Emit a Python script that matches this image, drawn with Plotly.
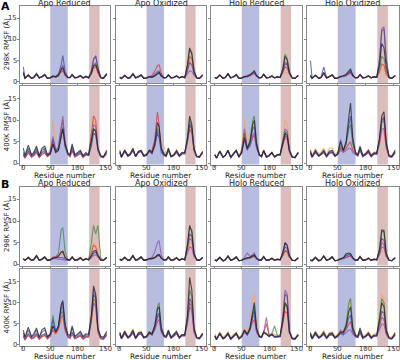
import plotly.graph_objects as go

# ---------------- data ----------------
residues = [1, 4, 10, 16, 20, 25, 30, 35, 40, 45, 50, 55, 60, 65, 70, 73, 77, 82, 86, 90,
            95, 100, 105, 110, 115, 120, 125, 129, 133, 137, 142, 147, 153]
series_names = ["run1", "run2", "run3", "run4", "run5", "run6"]
series_colors = ["#1e1e1e", "#3a4aa6", "#f0a860", "#3d8c3d", "#d8383a", "#8a4fb0"]
conditions = ["Apo Reduced", "Apo Oxidized", "Holo Reduced", "Holo Oxidized"]
row_labels = ["298K RMSF (Å)", "400K RMSF (Å)", "298K RMSF (Å)", "400K RMSF (Å)"]
panel_letters = ["A", "B"]
x_ticks = [0, 50, 100, 150]
y_ticks = [0, 5, 10, 15]
region_blue = [50, 82]
region_red = [121, 140]

# rows of each panel: black, blue, orange, green, red, purple
a298_apo_red = [
    [2.0,0.8,1.6,0.8,1.0,1.9,0.9,1.2,1.7,0.8,0.9,1.3,1.1,1.4,2.8,3.3,1.8,1.0,1.0,1.7,0.9,1.1,1.5,0.9,1.3,0.9,2.0,3.8,4.0,2.5,1.0,0.8,1.8],
    [3.5,0.9,1.5,0.8,1.1,1.8,0.9,1.2,1.6,0.8,1.0,1.4,1.2,1.8,4.0,6.2,2.5,1.1,1.0,1.6,0.9,1.0,1.4,0.9,1.2,1.0,2.5,5.5,6.0,3.5,1.1,0.8,2.0],
    [2.2,0.8,1.5,0.8,1.0,1.8,0.9,1.1,1.6,0.8,0.9,1.2,1.0,1.3,2.5,3.0,1.6,0.9,1.0,1.6,0.9,1.0,1.4,0.8,1.2,0.9,2.0,3.5,3.8,2.2,0.9,0.8,1.7],
    [2.4,0.9,1.7,0.9,1.0,2.0,1.0,1.2,1.8,0.9,1.0,1.3,1.1,1.5,3.0,3.5,1.7,1.0,1.0,1.8,1.0,1.1,1.5,0.9,1.3,1.0,2.2,4.0,4.5,2.4,1.0,0.9,1.9],
    [2.0,0.8,1.4,0.8,1.0,1.7,0.9,1.1,1.5,0.8,0.9,1.2,1.3,1.7,2.3,2.6,1.5,0.9,0.9,1.5,0.9,1.0,1.3,0.8,1.1,0.9,1.8,3.2,3.6,2.0,0.9,0.8,1.6],
    [2.3,0.9,1.5,0.8,1.0,1.8,0.9,1.2,1.6,0.8,0.9,1.3,1.2,1.6,3.2,4.0,1.9,1.0,1.0,1.6,0.9,1.0,1.4,0.9,1.2,0.9,2.4,5.0,6.2,3.2,1.0,0.8,1.8],
]
a298_apo_ox = [
    [1.0,0.7,1.5,0.8,1.0,1.9,0.9,1.2,1.6,0.8,0.9,1.2,1.1,1.4,2.0,2.2,1.4,0.9,1.0,1.6,0.9,1.0,1.4,0.9,1.2,1.0,4.0,8.0,6.5,2.5,0.9,0.8,1.6],
    [1.1,0.8,1.4,0.8,1.0,1.8,0.9,1.1,1.5,0.8,0.9,1.2,1.0,1.3,1.8,2.0,1.3,0.9,1.0,1.5,0.9,1.0,1.3,0.9,1.1,0.9,2.5,4.5,4.0,1.8,0.9,0.8,1.5],
    [1.2,0.8,1.6,0.9,1.1,2.0,1.0,1.2,1.7,0.9,1.0,1.3,1.2,1.4,2.0,2.2,1.5,1.0,1.0,1.7,1.0,1.1,1.5,1.0,1.3,1.0,3.0,5.5,5.0,2.2,1.0,0.9,1.7],
    [1.0,0.8,1.5,0.8,1.0,1.9,0.9,1.2,1.6,0.8,0.9,1.2,1.1,1.4,2.1,2.4,1.5,0.9,1.0,1.6,0.9,1.0,1.4,0.9,1.2,1.0,3.8,7.5,7.0,2.8,1.0,0.8,1.6],
    [1.1,0.8,1.5,0.8,1.0,1.8,0.9,1.1,1.6,0.8,0.9,1.3,1.5,2.5,3.8,4.0,2.0,1.0,1.0,1.6,0.9,1.0,1.4,0.9,1.2,1.0,3.2,6.0,5.5,2.4,1.0,0.8,1.6],
    [1.0,0.7,1.4,0.8,0.9,1.7,0.9,1.1,1.5,0.8,0.9,1.2,1.2,1.8,2.5,2.6,1.5,0.9,0.9,1.5,0.9,1.0,1.3,0.9,1.1,0.9,1.8,2.6,2.4,1.5,0.9,0.8,1.5],
]
a298_holo_red = [
    [1.0,0.8,1.6,0.8,1.0,1.9,0.9,1.2,1.7,0.8,0.9,1.2,1.3,1.6,2.2,2.6,1.5,0.9,1.0,1.8,0.9,1.0,1.4,0.9,1.2,1.0,3.0,6.0,5.0,2.2,0.9,0.8,1.5],
    [1.0,0.8,1.5,0.8,1.0,1.8,0.9,1.1,1.6,0.8,0.9,1.2,1.2,1.5,2.0,2.2,1.4,0.9,1.0,1.7,0.9,1.0,1.3,0.9,1.1,1.0,2.5,4.2,4.0,2.0,0.9,0.8,1.5],
    [1.1,0.9,1.7,0.9,1.1,2.0,1.0,1.2,1.8,0.9,1.0,1.3,1.3,1.5,1.8,1.9,1.4,1.0,1.1,1.8,1.0,1.1,1.5,1.0,1.3,1.1,1.8,2.2,2.2,1.5,1.0,0.9,1.6],
    [1.0,0.8,1.6,0.8,1.0,1.9,0.9,1.2,1.7,0.8,0.9,1.2,1.2,1.5,2.0,2.3,1.4,0.9,1.0,1.8,0.9,1.0,1.4,0.9,1.2,1.0,3.2,6.5,5.5,2.4,1.0,0.8,1.5],
    [1.0,0.8,1.5,0.8,1.0,1.8,0.9,1.1,1.6,0.8,0.9,1.2,1.2,1.4,1.8,2.0,1.3,0.9,1.0,1.7,0.9,1.0,1.3,0.9,1.1,1.0,2.2,3.5,3.2,1.8,0.9,0.8,1.4],
    [1.0,0.8,1.5,0.8,1.0,1.8,0.9,1.1,1.6,0.8,0.9,1.3,1.5,1.7,1.9,2.1,1.4,0.9,1.0,1.7,0.9,1.0,1.3,0.9,1.1,1.0,2.6,4.6,4.2,2.0,0.9,0.8,1.4],
]
a298_holo_ox = [
    [1.5,0.8,1.5,0.8,1.0,2.2,0.9,1.2,1.6,0.8,0.9,1.3,1.4,1.8,2.6,3.0,1.6,0.9,1.0,1.7,0.9,1.0,1.4,0.9,1.2,1.1,4.0,9.0,8.0,3.5,1.0,0.8,1.4],
    [5.0,0.9,1.6,0.8,1.0,3.5,0.9,1.2,1.6,0.8,0.9,1.2,1.3,1.6,2.2,2.5,1.5,0.9,1.0,1.7,0.9,1.0,1.4,0.9,1.2,1.1,5.0,12.0,12.5,5.0,1.1,0.8,1.5],
    [1.4,0.9,1.6,0.9,1.1,2.0,1.0,1.2,1.7,0.9,1.0,1.3,1.3,1.5,1.8,2.0,1.4,1.0,1.1,1.8,1.0,1.1,1.5,1.0,1.3,1.1,2.0,3.0,2.8,1.6,1.0,0.9,1.5],
    [1.3,0.8,1.5,0.8,1.0,2.0,0.9,1.2,1.6,0.8,0.9,1.2,1.3,1.6,2.1,2.4,1.5,0.9,1.0,1.7,0.9,1.0,1.4,0.9,1.2,1.0,3.0,6.0,5.5,2.5,1.0,0.8,1.4],
    [1.2,0.8,1.5,0.8,1.0,1.9,0.9,1.1,1.6,0.8,0.9,1.2,1.2,1.4,1.8,2.0,1.3,0.9,1.0,1.7,0.9,1.0,1.3,0.9,1.1,1.0,2.4,4.2,3.8,1.8,0.9,0.8,1.4],
    [1.6,0.8,1.5,0.8,1.0,2.2,0.9,1.2,1.6,0.8,0.9,1.2,1.3,1.5,2.0,2.3,1.4,0.9,1.0,1.7,0.9,1.0,1.4,0.9,1.2,1.1,5.5,12.5,13.0,5.5,1.1,0.8,1.5],
]
a400_apo_red = [
    [3.5,1.8,4.2,2.0,2.5,4.0,1.8,3.5,4.0,2.0,2.2,4.5,2.5,3.0,6.5,8.0,4.5,2.5,2.0,4.5,2.0,2.5,3.0,1.8,2.5,2.0,5.0,8.0,7.5,3.5,1.8,1.5,3.0],
    [2.5,1.5,3.5,1.8,2.2,3.5,1.6,3.0,3.5,1.8,2.5,5.5,2.8,3.5,6.0,8.0,4.0,2.2,1.8,4.0,1.8,2.2,2.8,1.6,2.2,1.8,4.0,7.0,6.5,3.0,1.6,1.5,2.8],
    [2.0,1.2,2.5,1.5,1.8,2.5,1.4,2.2,2.5,1.6,3.5,10.0,3.5,3.0,6.0,8.5,4.0,2.0,1.6,3.0,1.5,1.8,2.2,1.4,2.0,2.0,6.0,10.0,9.0,3.5,1.5,1.4,2.5],
    [2.2,1.3,3.0,1.6,2.0,3.0,1.5,2.5,3.0,1.6,2.2,4.5,2.6,3.0,6.5,8.5,4.0,2.0,1.8,3.5,1.6,2.0,2.5,1.5,2.1,1.8,4.5,8.0,7.5,3.0,1.5,1.4,2.6],
    [1.8,1.2,2.4,1.4,1.7,2.4,1.3,2.0,2.4,1.5,2.0,4.5,2.8,3.5,8.0,10.0,5.0,2.0,1.5,2.8,1.4,1.8,2.2,1.3,1.9,2.0,6.5,11.0,10.0,3.5,1.5,1.3,2.2],
    [2.0,1.3,2.8,1.5,1.9,2.8,1.4,2.4,2.8,1.6,2.8,6.2,3.0,3.8,8.5,11.0,5.0,2.2,1.7,3.2,1.6,2.0,2.5,1.5,2.0,1.9,5.0,9.0,8.5,3.2,1.5,1.4,2.4],
]
a400_apo_ox = [
    [3.0,1.5,3.0,1.8,2.2,3.5,1.6,2.8,3.0,1.8,2.0,3.0,2.5,4.5,9.5,8.5,3.5,2.0,1.8,3.5,1.6,2.0,3.0,1.8,2.5,2.5,6.0,11.0,9.0,3.5,1.6,1.5,2.8],
    [2.5,1.4,2.8,1.6,2.0,3.0,1.5,2.5,2.8,1.6,1.8,2.8,2.2,4.0,7.0,6.0,2.5,1.8,1.6,3.0,1.5,1.8,2.6,1.6,2.2,2.2,5.0,9.0,8.0,3.0,1.5,1.4,2.5],
    [2.8,1.6,3.2,1.9,2.3,3.4,1.7,2.8,3.1,1.9,2.2,3.2,2.8,4.5,8.5,8.0,4.5,4.0,2.0,3.6,1.8,2.1,3.0,1.9,2.6,2.5,5.5,8.0,7.5,3.2,1.7,1.6,2.7],
    [2.6,1.5,3.0,1.7,2.1,3.2,1.6,2.6,2.9,1.7,2.0,3.0,2.4,4.2,8.0,7.5,3.5,2.4,1.7,3.3,1.6,1.9,2.8,1.7,2.4,2.4,5.8,10.0,8.5,3.3,1.6,1.5,2.6],
    [2.4,1.4,2.7,1.6,2.0,3.0,1.5,2.5,2.7,1.6,1.9,3.0,3.0,5.5,12.0,9.0,3.5,1.9,1.6,3.0,1.5,1.8,2.6,1.6,2.2,2.2,5.0,8.0,7.0,3.0,1.5,1.4,2.4],
    [2.5,1.4,2.8,1.6,2.0,3.0,1.5,2.5,2.8,1.6,1.9,2.9,2.4,4.0,7.5,7.0,3.0,1.9,1.6,3.0,1.5,1.8,2.6,1.6,2.2,2.2,5.2,9.0,8.0,3.0,1.5,1.4,2.4],
]
a400_holo_red = [
    [2.0,1.2,2.8,1.4,1.8,3.0,1.4,2.2,3.0,1.5,2.5,6.0,3.5,5.0,9.0,10.0,4.5,2.0,1.6,3.0,1.5,1.8,2.5,1.5,2.0,2.0,5.0,7.0,6.5,3.0,1.5,1.3,2.5],
    [1.9,1.2,2.7,1.4,1.8,2.9,1.3,2.1,2.9,1.4,2.4,5.5,3.0,4.5,8.0,8.5,4.0,1.9,1.5,2.8,1.4,1.7,2.4,1.4,1.9,1.9,4.5,6.5,6.0,2.8,1.4,1.3,2.4],
    [2.2,1.3,3.0,1.5,1.9,3.1,1.5,2.3,3.1,1.6,3.5,10.0,5.0,5.5,8.0,9.0,5.0,2.2,1.7,3.1,1.6,1.9,2.6,1.6,2.1,2.2,6.0,10.0,9.0,3.5,1.6,1.4,2.6],
    [2.0,1.2,2.8,1.4,1.8,3.0,1.4,2.2,3.0,1.5,2.6,7.0,3.5,5.0,10.0,11.0,5.0,2.0,1.6,3.0,1.5,1.8,2.5,1.5,2.0,2.0,5.0,7.5,7.0,3.0,1.5,1.3,2.5],
    [1.9,1.2,2.7,1.4,1.8,2.9,1.3,2.1,2.9,1.4,3.0,8.0,3.5,4.0,6.0,6.5,3.5,1.9,1.5,2.8,1.4,1.7,2.4,1.4,1.9,1.9,4.0,6.0,5.5,2.6,1.4,1.3,2.4],
    [1.9,1.2,2.7,1.4,1.8,2.9,1.3,2.1,2.9,1.4,2.8,7.0,3.2,4.0,6.5,7.0,3.8,1.9,1.5,2.8,1.4,1.7,2.4,1.4,1.9,1.9,5.0,8.0,7.5,3.0,1.4,1.3,2.4],
]
a400_holo_ox = [
    [3.0,1.5,3.0,1.8,2.2,3.0,1.7,2.8,3.0,1.8,2.2,5.0,3.0,5.0,11.0,14.0,6.0,2.5,2.0,4.0,1.8,2.2,3.0,1.8,2.4,2.4,6.0,11.0,12.0,5.0,1.8,1.6,3.0],
    [2.5,1.4,2.6,1.6,2.0,2.6,1.5,2.4,2.6,1.6,2.2,5.5,2.8,4.5,9.0,11.0,5.0,2.2,1.8,3.5,1.6,2.0,2.7,1.6,2.2,2.2,5.5,10.0,10.5,4.5,1.6,1.5,2.6],
    [3.2,1.8,3.4,2.2,2.6,3.5,2.0,3.5,3.6,2.2,2.6,3.5,3.0,3.5,4.5,5.0,3.5,2.6,2.2,3.5,2.0,2.4,3.2,2.0,2.6,2.6,4.5,7.0,7.0,3.5,2.0,1.8,3.0],
    [2.6,1.5,2.8,1.7,2.1,2.8,1.6,2.6,2.8,1.7,2.2,4.0,3.0,4.5,8.0,9.0,4.5,2.3,1.9,3.6,1.7,2.1,2.8,1.7,2.3,2.3,5.5,9.5,10.0,4.5,1.7,1.5,2.7],
    [2.4,1.4,2.5,1.6,2.0,2.5,1.5,2.3,2.5,1.6,2.0,3.5,2.8,3.5,4.5,5.0,3.0,2.0,1.7,3.0,1.5,1.9,2.5,1.5,2.1,2.1,4.5,8.0,8.0,3.5,1.5,1.4,2.4],
    [2.4,1.4,2.5,1.6,2.0,2.5,1.5,2.3,2.5,1.6,2.0,3.0,2.5,3.0,3.5,3.5,2.5,2.0,1.7,3.0,1.5,1.9,2.5,1.5,2.1,2.1,5.0,10.0,11.0,4.0,1.5,1.4,2.4],
]
b298_apo_red = [
    [1.3,0.9,1.6,0.9,1.1,2.0,0.9,1.2,1.7,0.9,1.0,1.4,1.5,1.8,2.8,3.0,1.6,1.0,1.0,1.7,0.9,1.1,1.5,0.9,1.3,1.0,2.0,3.0,3.2,2.0,1.0,0.9,1.6],
    [1.2,0.9,1.5,0.9,1.0,1.9,0.9,1.1,1.6,0.9,1.0,1.5,1.6,1.5,1.5,1.5,1.2,1.0,1.0,1.6,0.9,1.0,1.4,0.9,1.2,1.0,1.8,2.5,2.8,1.8,0.9,0.9,1.5],
    [1.4,1.0,1.7,1.0,1.2,2.1,1.0,1.3,1.8,1.0,1.1,1.6,1.8,1.8,2.3,2.5,1.6,1.1,1.1,1.8,1.0,1.2,1.6,1.0,1.4,1.1,3.0,5.0,4.5,2.5,1.1,1.0,1.7],
    [1.3,0.9,1.6,0.9,1.1,2.0,0.9,1.2,1.7,0.9,1.0,1.5,1.6,2.5,8.0,8.5,3.0,1.0,1.0,1.7,0.9,1.1,1.5,0.9,1.3,1.0,5.0,9.0,7.0,9.0,1.5,0.9,1.6],
    [1.2,0.9,1.5,0.9,1.0,1.9,0.9,1.1,1.6,0.9,1.0,1.6,1.8,2.0,2.8,3.0,1.5,1.0,1.0,1.6,0.9,1.0,1.4,0.9,1.2,1.0,2.5,4.5,4.0,2.2,1.0,0.9,1.5],
    [1.2,0.9,1.5,0.9,1.0,1.8,0.9,1.1,1.6,0.9,1.0,1.3,1.3,1.2,1.1,1.0,1.0,0.9,1.0,1.6,0.9,1.0,1.3,0.9,1.2,1.0,1.5,2.0,2.2,1.5,0.9,0.9,1.5],
]
b298_apo_ox = [
    [1.2,0.9,1.6,0.9,1.1,2.0,0.9,1.2,1.7,0.9,1.0,1.3,1.3,1.5,2.0,2.2,1.4,1.0,1.0,1.7,0.9,1.1,1.5,0.9,1.3,1.0,4.5,9.0,7.5,2.5,1.0,0.9,1.6],
    [1.1,0.9,1.5,0.9,1.0,1.9,0.9,1.1,1.6,0.9,1.0,1.3,1.3,1.6,2.2,2.3,1.4,1.0,1.0,1.6,0.9,1.0,1.4,0.9,1.2,1.0,4.0,7.0,6.5,2.2,1.0,0.9,1.5],
    [1.3,1.0,1.7,1.0,1.2,2.1,1.0,1.3,1.8,1.0,1.1,1.4,1.4,1.6,2.0,2.1,1.5,1.1,1.1,1.8,1.0,1.2,1.6,1.0,1.4,1.1,3.0,5.0,4.8,2.2,1.1,1.0,1.7],
    [1.2,0.9,1.6,0.9,1.1,2.0,0.9,1.2,1.7,0.9,1.0,1.3,1.3,1.5,2.0,2.2,1.4,1.0,1.0,1.7,0.9,1.1,1.5,0.9,1.3,1.0,4.5,8.5,8.0,2.6,1.0,0.9,1.6],
    [1.1,0.9,1.5,0.9,1.0,1.9,0.9,1.1,1.6,0.9,1.0,1.3,1.3,1.5,1.9,2.0,1.4,1.0,1.0,1.6,0.9,1.0,1.4,0.9,1.2,1.0,3.5,6.0,5.5,2.3,1.0,0.9,1.5],
    [1.1,0.9,1.5,0.9,1.0,1.9,0.9,1.1,1.6,0.9,1.0,1.4,1.6,2.8,5.0,5.5,2.0,1.0,1.0,1.6,0.9,1.0,1.4,0.9,1.2,1.0,2.5,4.0,3.8,1.8,1.0,0.9,1.5],
]
b298_holo_red = [
    [1.0,0.8,1.6,0.8,1.0,1.9,0.9,1.2,1.7,0.8,0.9,1.3,1.5,1.6,2.0,2.2,1.4,0.9,1.0,1.8,0.9,1.0,1.4,0.9,1.2,1.0,2.8,5.0,4.2,2.0,0.9,0.8,1.5],
    [1.0,0.8,1.5,0.8,1.0,1.8,0.9,1.1,1.6,0.8,0.9,1.3,1.5,1.5,1.8,2.0,1.3,0.9,1.0,1.7,0.9,1.0,1.3,0.9,1.1,1.0,2.4,4.0,3.6,1.8,0.9,0.8,1.4],
    [1.1,0.9,1.7,0.9,1.1,2.0,1.0,1.2,1.8,0.9,1.0,1.3,1.4,1.5,1.7,1.8,1.4,1.0,1.1,1.8,1.0,1.1,1.5,1.0,1.3,1.1,1.8,2.2,2.2,1.5,1.0,0.9,1.6],
    [1.0,0.8,1.6,0.8,1.0,1.9,0.9,1.2,1.7,0.8,0.9,1.2,1.3,1.4,1.7,1.9,1.3,0.9,1.0,1.8,0.9,1.0,1.4,0.9,1.2,1.0,2.2,3.2,3.0,1.7,0.9,0.8,1.5],
    [1.0,0.8,1.5,0.8,1.0,1.8,0.9,1.1,1.6,0.8,0.9,1.2,1.3,1.4,1.7,1.8,1.3,0.9,1.0,1.7,0.9,1.0,1.3,0.9,1.1,1.0,2.0,3.0,2.8,1.6,0.9,0.8,1.4],
    [1.0,0.8,1.5,0.8,1.0,1.8,0.9,1.1,1.6,0.8,0.9,1.6,2.6,1.8,2.2,2.6,1.5,0.9,1.0,1.7,0.9,1.0,1.3,0.9,1.1,1.0,2.8,5.0,4.5,2.0,0.9,0.8,1.4],
]
b298_holo_ox = [
    [1.0,0.8,1.6,0.8,1.0,1.9,0.9,1.2,1.7,0.8,0.9,1.3,1.5,2.4,2.6,2.5,1.5,0.9,1.0,1.8,0.9,1.0,1.4,0.9,1.2,1.0,3.5,8.0,7.5,2.5,0.9,0.8,1.5],
    [1.0,0.8,1.5,0.8,1.0,1.8,0.9,1.1,1.6,0.8,0.9,1.3,1.4,2.0,2.2,2.2,1.4,0.9,1.0,1.7,0.9,1.0,1.3,0.9,1.1,1.0,3.0,6.0,5.5,2.2,0.9,0.8,1.4],
    [1.1,0.9,1.7,0.9,1.1,2.0,1.0,1.2,1.8,0.9,1.0,1.3,1.4,1.6,1.8,1.9,1.4,1.0,1.1,1.8,1.0,1.1,1.5,1.0,1.3,1.1,2.0,3.0,2.8,1.6,1.0,0.9,1.6],
    [1.0,0.8,1.6,0.8,1.0,1.9,0.9,1.2,1.7,0.8,0.9,1.2,1.4,2.0,2.3,2.3,1.4,0.9,1.0,1.8,0.9,1.0,1.4,0.9,1.2,1.0,3.5,7.5,8.0,2.6,0.9,0.8,1.5],
    [1.0,0.8,1.5,0.8,1.0,1.8,0.9,1.1,1.6,0.8,0.9,1.2,1.3,1.6,1.9,2.0,1.3,0.9,1.0,1.7,0.9,1.0,1.3,0.9,1.1,1.0,2.5,5.0,4.5,1.9,0.9,0.8,1.4],
    [1.0,0.8,1.5,0.8,1.0,1.8,0.9,1.1,1.6,0.8,0.9,1.2,1.3,1.5,1.8,1.9,1.3,0.9,1.0,1.7,0.9,1.0,1.3,0.9,1.1,1.0,2.2,4.0,3.8,1.8,0.9,0.8,1.4],
]
b400_apo_red = [
    [3.5,1.8,4.2,2.0,2.6,4.0,1.8,3.6,4.0,2.0,2.4,4.5,3.0,4.5,9.5,10.5,5.0,2.5,2.2,4.5,2.0,2.6,3.2,2.0,2.6,2.5,7.0,14.0,12.0,4.0,2.0,1.8,3.2],
    [2.8,1.6,3.5,1.8,2.2,3.5,1.6,3.0,3.5,1.8,2.5,6.0,3.0,4.5,9.0,10.0,4.5,2.2,2.0,4.0,1.8,2.3,2.9,1.8,2.3,2.3,6.5,12.0,11.0,3.6,1.8,1.6,2.8],
    [2.0,1.2,2.2,1.4,1.6,2.2,1.3,1.9,2.2,1.4,2.0,3.5,2.5,3.5,5.5,6.0,3.2,1.8,1.5,2.5,1.4,1.7,2.1,1.3,1.8,1.8,5.5,10.0,9.0,3.0,1.4,1.3,2.2],
    [2.2,1.3,2.6,1.5,1.8,2.6,1.4,2.2,2.6,1.5,2.8,7.0,3.0,4.0,7.5,8.0,4.0,2.0,1.7,3.0,1.5,1.9,2.4,1.5,2.0,2.0,6.0,11.0,10.0,3.3,1.5,1.4,2.4],
    [1.9,1.2,2.2,1.4,1.6,2.2,1.3,1.9,2.2,1.4,2.0,3.5,2.6,3.6,6.5,7.0,3.5,1.8,1.5,2.5,1.4,1.7,2.1,1.3,1.8,1.8,5.5,10.0,9.0,3.0,1.4,1.3,2.2],
    [2.2,1.3,2.6,1.5,1.8,2.6,1.4,2.2,2.6,1.5,2.4,4.5,3.0,4.2,8.5,9.0,4.2,2.0,1.7,3.0,1.5,1.9,2.4,1.5,2.0,2.0,6.5,13.0,11.5,3.5,1.5,1.4,2.5],
]
b400_apo_ox = [
    [3.0,1.6,3.2,1.8,2.2,3.5,1.6,2.8,3.0,1.8,2.0,3.0,2.6,4.5,8.5,9.0,4.0,2.2,2.0,3.5,1.8,2.4,3.2,1.8,2.4,2.4,7.0,16.0,13.0,4.0,1.8,1.6,2.8],
    [2.6,1.5,2.8,1.6,2.0,3.0,1.5,2.5,2.7,1.6,1.9,2.8,2.4,4.0,7.0,7.5,3.5,2.0,1.8,3.0,1.6,2.1,2.8,1.6,2.2,2.2,6.0,11.0,10.0,3.5,1.6,1.5,2.5],
    [2.8,1.6,3.4,1.9,2.4,3.8,1.7,3.0,3.2,1.9,2.1,3.2,2.8,4.0,6.5,7.0,3.5,2.4,2.0,3.4,1.8,2.3,3.0,1.8,2.4,2.4,5.5,9.0,8.5,3.5,1.7,1.6,2.7],
    [2.7,1.5,3.0,1.7,2.1,3.2,1.6,2.6,2.8,1.7,2.0,3.0,2.6,4.5,9.0,10.0,4.0,2.1,1.9,3.2,1.7,2.2,2.9,1.7,2.3,2.3,6.5,13.0,11.5,3.8,1.7,1.5,2.6],
    [2.4,1.4,2.6,1.6,1.9,2.8,1.5,2.3,2.5,1.6,1.8,2.6,2.3,3.5,5.5,6.0,3.0,1.9,1.7,2.8,1.5,2.0,2.6,1.5,2.1,2.1,5.5,10.0,9.0,3.2,1.5,1.4,2.4],
    [2.5,1.4,2.7,1.6,2.0,2.9,1.5,2.4,2.6,1.6,1.9,2.7,2.3,3.8,6.5,7.0,3.2,2.0,1.7,2.9,1.6,2.0,2.7,1.6,2.1,2.1,5.0,9.0,8.0,3.0,1.5,1.4,2.4],
]
b400_holo_red = [
    [2.2,1.3,2.8,1.5,1.9,2.8,1.4,2.2,2.8,1.5,2.0,3.5,2.5,4.0,8.0,10.0,4.0,2.0,1.8,3.0,2.5,2.0,2.5,2.0,2.0,2.0,6.0,10.0,9.0,3.0,1.5,1.4,2.4],
    [2.0,1.2,2.6,1.4,1.8,2.6,1.3,2.0,2.6,1.4,1.9,3.2,2.3,3.5,7.0,8.0,3.5,1.9,1.7,2.8,2.5,1.9,2.4,1.8,1.9,1.9,6.0,12.0,11.5,3.2,1.4,1.3,2.3],
    [2.6,1.6,3.0,1.8,2.2,3.0,1.7,2.5,3.0,1.8,2.3,4.0,3.0,5.0,11.0,12.0,5.0,2.4,2.0,3.2,2.8,2.3,2.8,2.4,2.3,2.3,6.0,10.0,9.5,3.4,1.8,1.6,2.6],
    [2.1,1.3,2.7,1.5,1.8,2.7,1.4,2.1,2.7,1.5,2.0,3.3,2.4,3.8,7.5,9.0,3.8,2.0,1.8,2.9,2.6,2.0,2.6,4.5,2.2,2.0,5.5,9.5,9.0,3.0,1.5,1.4,2.4],
    [2.0,1.2,2.5,1.4,1.7,2.5,1.3,2.0,2.5,1.4,1.9,3.5,2.6,3.5,5.5,6.0,3.0,1.9,1.7,2.8,5.0,2.2,2.4,1.8,1.9,1.9,5.0,8.0,7.5,2.8,1.4,1.3,2.2],
    [2.0,1.2,2.5,1.4,1.7,2.5,1.3,2.0,2.5,1.4,1.9,3.0,2.3,3.5,6.5,7.0,3.2,1.9,1.7,3.0,6.5,2.2,2.4,1.8,1.9,2.0,7.0,13.0,12.0,3.4,1.4,1.3,2.2],
]
b400_holo_ox = [
    [2.8,1.5,3.0,1.7,2.1,3.0,1.6,2.6,2.8,1.7,2.2,3.0,3.0,4.5,8.0,9.0,4.0,2.2,2.0,4.0,1.8,2.1,2.8,1.7,2.3,2.3,6.0,10.0,9.0,3.5,1.7,1.5,2.8],
    [2.4,1.4,2.6,1.6,1.9,2.6,1.5,2.3,2.5,1.6,2.0,2.8,2.5,4.0,6.5,7.0,3.2,2.0,1.8,3.2,1.6,1.9,2.5,1.6,2.1,2.1,5.0,8.0,7.5,3.0,1.5,1.4,2.4],
    [3.0,1.8,3.3,2.0,2.4,3.3,1.9,2.9,3.1,2.0,2.5,3.2,3.2,5.0,10.0,11.0,4.5,2.5,2.2,3.5,2.0,2.4,3.1,2.0,2.6,2.6,7.0,12.0,11.0,4.0,2.0,1.8,3.0],
    [2.6,1.5,2.8,1.7,2.0,2.8,1.6,2.5,2.7,1.7,2.1,3.0,2.8,4.8,10.0,11.0,4.2,2.2,1.9,3.4,1.7,2.0,2.7,1.7,2.2,2.2,6.5,11.0,10.0,3.6,1.6,1.5,2.6],
    [2.3,1.4,2.5,1.6,1.9,2.5,1.5,2.2,2.4,1.6,2.2,3.5,3.0,3.5,5.0,5.5,3.0,1.9,1.7,3.0,1.5,1.9,2.4,1.5,2.0,2.0,4.5,6.5,6.0,2.8,1.5,1.4,2.3],
    [2.3,1.4,2.5,1.6,1.9,2.5,1.5,2.2,2.4,1.6,1.9,2.6,2.3,2.8,3.5,3.5,2.5,1.9,1.7,2.8,1.5,1.9,2.4,1.5,2.0,2.0,3.5,5.0,4.8,2.5,1.5,1.4,2.3],
]

panel_rows = [
    [a298_apo_red, a298_apo_ox, a298_holo_red, a298_holo_ox],
    [a400_apo_red, a400_apo_ox, a400_holo_red, a400_holo_ox],
    [b298_apo_red, b298_apo_ox, b298_holo_red, b298_holo_ox],
    [b400_apo_red, b400_apo_ox, b400_holo_red, b400_holo_ox],
]

# ---------------- layout geometry (pixels) ----------------
W, H = 400, 360
col_px = [(19.5, 110), (116, 206), (211, 301.5), (306.5, 398.5)]
row_px = [(5.5, 83), (86, 164.5), (186.5, 265.5), (269, 346)]
draw_order = [2, 3, 4, 5, 1, 0]
FONT = "DejaVu Sans"
TICK_FONT = dict(size=6.8, color="#333333", family=FONT)

fig = go.Figure()
layout = dict(
    width=W, height=H, margin=dict(l=0, r=0, t=0, b=0, autoexpand=False),
    paper_bgcolor="white", plot_bgcolor="white", showlegend=False,
    font=dict(family=FONT, size=8, color="#333333"),
)
shapes = []
annotations = []

for r in range(4):
    for c in range(4):
        n = r * 4 + c + 1
        sfx = "" if n == 1 else str(n)
        data = panel_rows[r][c]
        for s in draw_order:
            fig.add_trace(go.Scatter(
                x=residues, y=data[s], mode="lines", name=series_names[s],
                line=dict(color=series_colors[s], width=1.1), opacity=0.75,
                xaxis="x" + sfx, yaxis="y" + sfx, hoverinfo="skip"))
        x0, x1 = col_px[c]
        y0, y1 = row_px[r]
        layout["xaxis" + sfx] = dict(
            domain=[x0 / W, x1 / W], range=[-6, 159], anchor="y" + sfx,
            showline=True, mirror=True, linecolor="#888888", linewidth=1,
            ticks="outside", ticklen=2, tickcolor="#888888", tickvals=x_ticks,
            showticklabels=False, showgrid=False, zeroline=False, automargin=False)
        layout["yaxis" + sfx] = dict(
            domain=[1 - y1 / H, 1 - y0 / H], range=[-0.3, 18], anchor="x" + sfx,
            showline=True, mirror=True, linecolor="#888888", linewidth=1,
            ticks="outside", ticklen=2, tickcolor="#888888", tickvals=y_ticks,
            showticklabels=False, showgrid=False, zeroline=False, automargin=False)
        for reg, col in ((region_blue, "#b8bddf"), (region_red, "#dcbdbd")):
            shapes.append(dict(type="rect", xref="x" + sfx, yref="y" + sfx + " domain",
                               x0=reg[0], x1=reg[1], y0=0, y1=1, fillcolor=col,
                               line=dict(width=0), layer="below"))
        # x tick labels on the lower row of each panel
        if r in (1, 3):
            for t in x_ticks:
                annotations.append(dict(text=str(t), xref="x" + sfx, yref="paper",
                                        x=t, y=1 - (y1 + 3.0) / H, showarrow=False,
                                        xanchor="center", yanchor="middle",
                                        borderpad=0, font=TICK_FONT))
        # y tick labels on the first column
        if c == 0:
            for t in y_ticks:
                annotations.append(dict(text=str(t), xref="paper", yref="y" + sfx,
                                        x=(x0 - 2.0) / W, y=t, showarrow=False,
                                        xanchor="right", yanchor="middle",
                                        borderpad=0, font=TICK_FONT))

# column titles
for ty in [3.5, 183.5]:
    for c in range(4):
        x0, x1 = col_px[c]
        annotations.append(dict(text=conditions[c], xref="paper", yref="paper",
                                x=(x0 + x1) / 2 / W, y=1 - ty / H, showarrow=False,
                                xanchor="center", yanchor="middle", borderpad=0,
                                font=dict(size=8, color="#222222", family=FONT)))
# x titles
for ty in [175.5, 356.5]:
    for c in range(4):
        x0, x1 = col_px[c]
        annotations.append(dict(text="Residue number", xref="paper", yref="paper",
                                x=(x0 + x1) / 2 / W, y=1 - ty / H, showarrow=False,
                                xanchor="center", yanchor="middle", borderpad=0,
                                font=dict(size=7.5, color="#222222", family=FONT)))
# y titles
for r in range(4):
    y0, y1 = row_px[r]
    annotations.append(dict(text=row_labels[r], xref="paper", yref="paper",
                            x=6 / W, y=1 - (y0 + y1) / 2 / H, showarrow=False,
                            textangle=-90, xanchor="center", yanchor="middle",
                            borderpad=0, font=dict(size=7, color="#222222", family=FONT)))
# panel letters
for letter, ty in zip(panel_letters, [6.5, 184]):
    annotations.append(dict(text="<b>" + letter + "</b>", xref="paper", yref="paper",
                            x=0.0, y=1 - ty / H, showarrow=False,
                            xanchor="left", yanchor="middle", borderpad=0,
                            font=dict(size=11, color="#000000", family=FONT)))

layout["shapes"] = shapes
layout["annotations"] = annotations
fig.update_layout(**layout)
fig.write_html("out.html", config={"displayModeBar": False},
               post_script="document.body.style.margin='0';document.body.style.padding='0';")
